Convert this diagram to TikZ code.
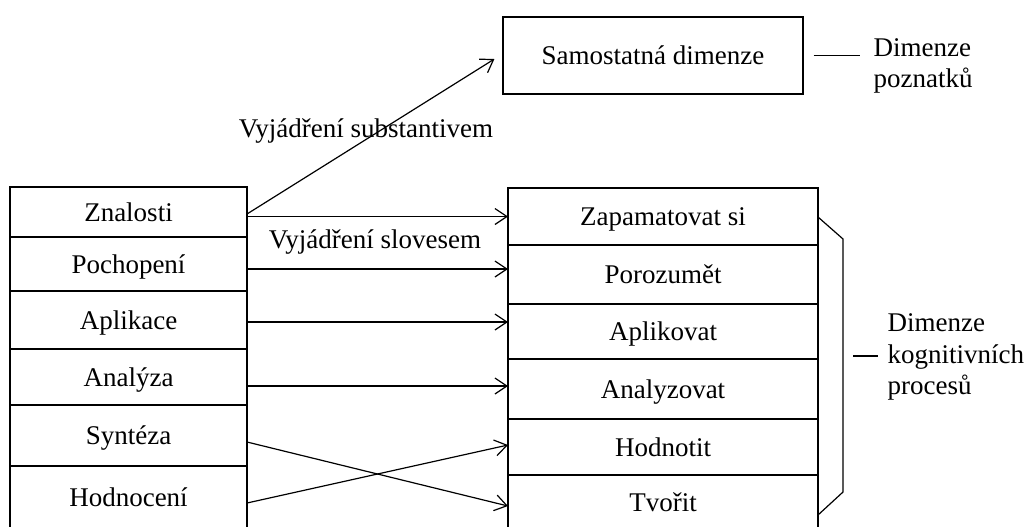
\documentclass[tikz,border=0pt]{standalone}
\usepackage{fontspec}
\setmainfont{Liberation Serif}
\usetikzlibrary{positioning,calc,arrows.meta}
\tikzset{>={Straight Barb[length=6pt,width=8pt]}}

\begin{document}
\begin{tikzpicture}[x=0.5pt,y=-0.5pt,line width=0.6pt,
  font=\fontsize{13.5}{15.75}\selectfont,
  lcell/.style={draw,minimum width=118.5pt,inner sep=0pt,outer sep=0pt,text height=9pt,text depth=0pt},
  rcell/.style={draw,minimum width=155pt,inner sep=0pt,outer sep=0pt,text height=9pt,text depth=0pt}]
% Picture is 1026 x 526 px, y grows downward
\path[use as bounding box] (0,0) rectangle (1026,526);
\clip (0,0) rectangle (1026,526);

% Left column
\node[lcell,minimum height=25pt,anchor=north west] (zn) at (10,187) {Znalosti};
\node[lcell,minimum height=27pt,below=0pt of zn] (po) {Pochopení};
\node[lcell,minimum height=29pt,below=0pt of po] (ap) {Aplikace};
\node[lcell,minimum height=28pt,below=0pt of ap] (an) {Analýza};
\node[lcell,minimum height=30.5pt,below=0pt of an] (sy) {Syntéza};
\node[lcell,minimum height=31pt,below=0pt of sy] (ho) {Hodnocení};

% Right column
\node[rcell,minimum height=28.5pt,anchor=north west] (za) at (508,188) {Zapamatovat si};
\node[rcell,minimum height=29.5pt,below=0pt of za] (por) {Porozumět};
\node[rcell,minimum height=27.5pt,below=0pt of por] (apv) {Aplikovat};
\node[rcell,minimum height=30pt,below=0pt of apv] (anz) {Analyzovat};
\node[rcell,minimum height=28pt,below=0pt of anz] (hd) {Hodnotit};
\node[rcell,minimum height=27.5pt,below=0pt of hd] (tv) {Tvořit};

% Top box
\node[draw,minimum width=150pt,minimum height=38.5pt] (sd) at (653,55.5) {Samostatná dimenze};
\node[anchor=west,align=left,inner sep=0pt] (dp) at (873,66) {Dimenze\\poznatků};
\draw ($(sd.east)+(10,0)$) -- ($(dp.west |- sd.east)+(-13,0)$);

% Labels
\node (lsub) at (366,131) {Vyjádření substantivem};
\node (lslo) at (375,242) {Vyjádření slovesem};

% Arrows
\draw[->] ($(zn.east)+(0,2)$) -- ($(sd.west)+(-8,3.5)$);
\draw[->] (zn.east |- za.west) -- (za.west);
\draw[->] ($(po.east)+(0,5)$) coordinate (p2) -- (p2 -| por.west);
\draw[->] ($(ap.east)+(0,2)$) coordinate (p3) -- (p3 -| apv.west);
\draw[->] ($(an.east)+(0,9)$) coordinate (p4) -- (p4 -| anz.west);
\draw[->] ($(sy.east)+(0,6.5)$) -- ($(tv.west)+(0,3.5)$);
\draw[->] ($(ho.east)+(0,6)$) -- ($(hd.west)+(0,-2)$);

% Bracket for the cognitive processes
\coordinate (b1) at (818,217);
\coordinate (b2) at (843,239);
\coordinate (b3) at (843,492);
\coordinate (b4) at (818,515);
\draw (b1) -- (b2) -- (b3) -- (b4);
\node[anchor=west,align=left,inner sep=0pt] (dk) at (887,357) {Dimenze\\kognitivních\\procesů};
\draw ($(dk.west)+(-34,-1)$) -- ($(dk.west)+(-9,-1)$);
\end{tikzpicture}
\end{document}
